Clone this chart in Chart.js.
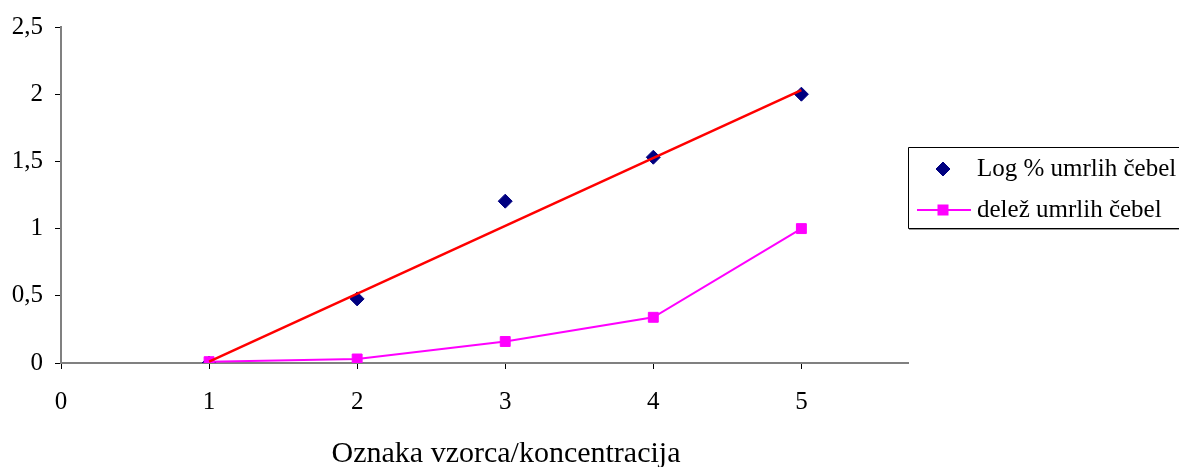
<!DOCTYPE html>
<html>
<head>
<meta charset="utf-8">
<script src="https://cdn.jsdelivr.net/npm/chart.js@4/dist/chart.umd.min.js"></script>
<style>
  html, body { margin: 0; padding: 0; background: #fff; }
  #wrap { width: 1179px; height: 467px; position: relative; }
</style>
</head>
<body>
<div id="wrap"><canvas id="c" width="1179" height="467"></canvas></div>
<script>
// Sample labels (x) and measured values
const samples = [1, 2, 3, 4, 5];
const logPercentDead = [0, 0.477, 1.204, 1.531, 2.0];
const shareDead = [0.01, 0.03, 0.16, 0.34, 1.0];
// Linear trend of the log series, as drawn between its end points
const trendX = [1, 5];
const trendY = [0.01, 2.03];
// Axis ticks
const xTicks = [0, 1, 2, 3, 4, 5];
const yTicks = [0, 0.5, 1, 1.5, 2, 2.5];

const seriesNames = ['Log % umrlih čebel', 'delež umrlih čebel'];
const xTitle = 'Oznaka vzorca/koncentracija';

const FONT = '"Liberation Serif", "Times New Roman", serif';
const fmt = v => String(v).replace('.', ',');

const toPts = (xs, ys) => xs.map((x, i) => ({ x: x, y: ys[i] }));

// Boxed legend on the right and the x-axis caption below the ticks
const boxLegend = {
  id: 'boxLegend',
  afterDraw(chart) {
    const ctx = chart.ctx;
    const left = 908, top = 147, bottom = 228;
    ctx.save();
    ctx.strokeStyle = '#000';
    ctx.lineWidth = 1;
    ctx.beginPath();
    ctx.moveTo(1185, top + 0.5);
    ctx.lineTo(left + 0.5, top + 0.5);
    ctx.lineTo(left + 0.5, bottom + 0.5);
    ctx.lineTo(1185, bottom + 0.5);
    ctx.stroke();
    ctx.strokeStyle = '#999';
    ctx.beginPath();
    ctx.moveTo(left + 1, bottom + 1.5);
    ctx.lineTo(1185, bottom + 1.5);
    ctx.stroke();

    const rows = [169, 210];
    const ds0 = chart.data.datasets[0];
    const ds1 = chart.data.datasets[1];
    // row 1: diamond marker only
    ctx.fillStyle = ds0.backgroundColor;
    ctx.strokeStyle = ds0.borderColor;
    ctx.lineWidth = 1;
    ctx.beginPath();
    const r0 = ds0.pointRadius;
    ctx.moveTo(943, rows[0] - r0);
    ctx.lineTo(943 + r0, rows[0]);
    ctx.lineTo(943, rows[0] + r0);
    ctx.lineTo(943 - r0, rows[0]);
    ctx.closePath();
    ctx.fill();
    ctx.stroke();
    // row 2: line with square marker
    ctx.strokeStyle = ds1.borderColor;
    ctx.lineWidth = ds1.borderWidth;
    ctx.beginPath();
    ctx.moveTo(917, rows[1]);
    ctx.lineTo(971, rows[1]);
    ctx.stroke();
    ctx.fillStyle = ds1.backgroundColor;
    ctx.fillRect(943 - 5.5, rows[1] - 5.5, 11, 11);

    ctx.fillStyle = '#000';
    ctx.font = '25px ' + FONT;
    ctx.textBaseline = 'middle';
    ctx.textAlign = 'left';
    ctx.fillText(seriesNames[0], 977, rows[0]);
    ctx.fillText(seriesNames[1], 977, rows[1]);

    // x-axis caption
    ctx.font = '30px ' + FONT;
    ctx.textAlign = 'center';
    ctx.fillText(xTitle, 506, 454);
    ctx.restore();
  }
};

new Chart(document.getElementById('c'), {
  type: 'scatter',
  data: {
    datasets: [
      {
        label: seriesNames[0],
        data: toPts(samples, logPercentDead),
        showLine: false,
        pointStyle: 'rectRot',
        pointRadius: 7,
        pointBorderWidth: 1,
        backgroundColor: '#000080',
        borderColor: '#000080',
        order: 3
      },
      {
        label: seriesNames[1],
        data: toPts(samples, shareDead),
        showLine: true,
        pointStyle: 'rect',
        pointRadius: 7,
        pointBorderWidth: 1,
        backgroundColor: '#FF00FF',
        borderColor: '#FF00FF',
        borderWidth: 2,
        order: 2
      },
      {
        label: 'trend',
        data: toPts(trendX, trendY),
        showLine: true,
        pointRadius: 0,
        borderColor: '#FF0000',
        backgroundColor: '#FF0000',
        borderWidth: 2.5,
        order: 1
      }
    ]
  },
  options: {
    responsive: false,
    animation: false,
    events: [],
    layout: { padding: { left: 0, top: 25, right: 1179 - 908, bottom: 0 } },
    plugins: {
      legend: { display: false },
      tooltip: { enabled: false }
    },
    scales: {
      x: {
        type: 'linear',
        min: 0,
        max: 5.72,
        afterBuildTicks: s => { s.ticks = xTicks.map(v => ({ value: v })); },
        afterFit: s => { s.height = 467 - 363; },
        grid: {
          display: true,
          drawOnChartArea: false,
          drawTicks: true,
          tickLength: 6,
          color: '#000'
        },
        border: { display: true, color: '#808080', width: 2 },
        ticks: {
          color: '#000',
          font: { family: FONT, size: 25 },
          padding: 18,
          maxRotation: 0,
          callback: v => fmt(v)
        },
        title: { display: false }
      },
      y: {
        type: 'linear',
        min: 0,
        max: 2.5,
        afterBuildTicks: s => { s.ticks = yTicks.map(v => ({ value: v })); },
        afterFit: s => { s.width = 61; },
        grid: {
          display: true,
          drawOnChartArea: false,
          drawTicks: true,
          tickLength: 6,
          color: '#000'
        },
        border: { display: true, color: '#808080', width: 2 },
        ticks: {
          color: '#000',
          font: { family: FONT, size: 25 },
          padding: 12,
          callback: v => fmt(v)
        }
      }
    }
  },
  plugins: [boxLegend]
});
</script>
</body>
</html>
